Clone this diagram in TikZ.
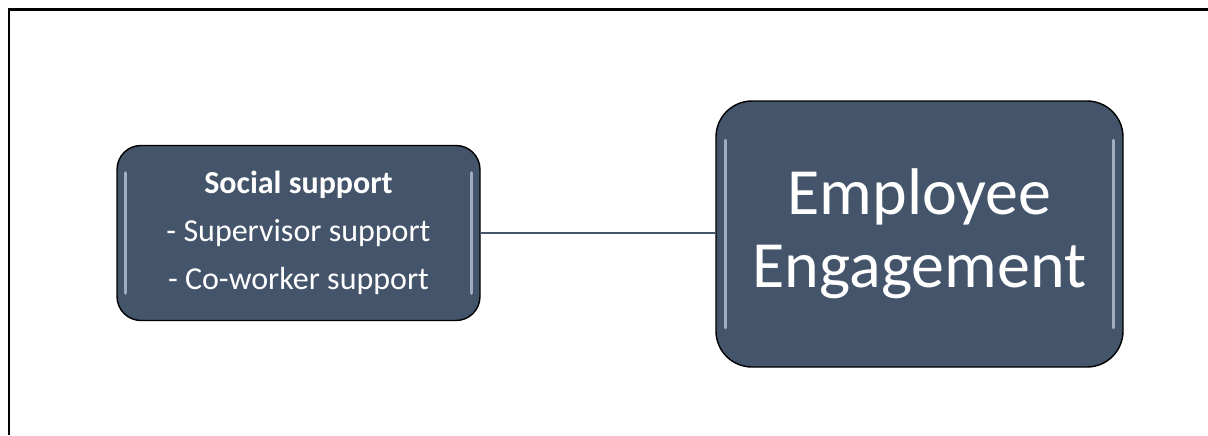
\documentclass[tikz,border=0pt]{standalone}
\usepackage{fontspec}
\setmainfont{Carlito}
\usepackage{tikz}
\usetikzlibrary{positioning,calc}

\definecolor{slate}{HTML}{44546A}
\definecolor{rim}{HTML}{C9D3E2}

\begin{document}
\begin{tikzpicture}[x=0.5pt,y=-0.5pt,
  box/.style={draw=black,line width=0.7pt,fill=slate,text=white,align=center,
    inner sep=0pt},
  hl/.style={rim,line width=1.6pt,line cap=round,opacity=0.7},
  link/.style={slate,line width=1.1pt}]
\useasboundingbox (0,0) rectangle (1208,435);
% frame
\draw[line width=1.3pt] (9,435) -- (9,9.5) -- (1208,9.5);
% nodes
\node[box,rounded corners=12pt,minimum width=181.5pt,minimum height=87.5pt,
  font=\fontsize{16}{24}\selectfont] (support) at (298.5,233)
  {\textbf{Social support}\\- Supervisor support\\- Co-worker support};
\node[box,rounded corners=18pt,minimum width=203.5pt,minimum height=133pt,
  font=\fontsize{33}{36.5}\selectfont] (engage) at (919.5,234)
  {Employee\\Engagement};
% rim highlights
\draw[hl] ([shift={(4.5pt,-14pt)}]support.north west) -- ([shift={(4.5pt,14pt)}]support.south west);
\draw[hl] ([shift={(-4.5pt,-14pt)}]support.north east) -- ([shift={(-4.5pt,14pt)}]support.south east);
\draw[hl] ([shift={(5pt,-20pt)}]engage.north west) -- ([shift={(5pt,20pt)}]engage.south west);
\draw[hl] ([shift={(-5pt,-20pt)}]engage.north east) -- ([shift={(-5pt,20pt)}]engage.south east);
% connector
\draw[link] (support.east) -- (support.east -| engage.west);
\end{tikzpicture}
\end{document}
